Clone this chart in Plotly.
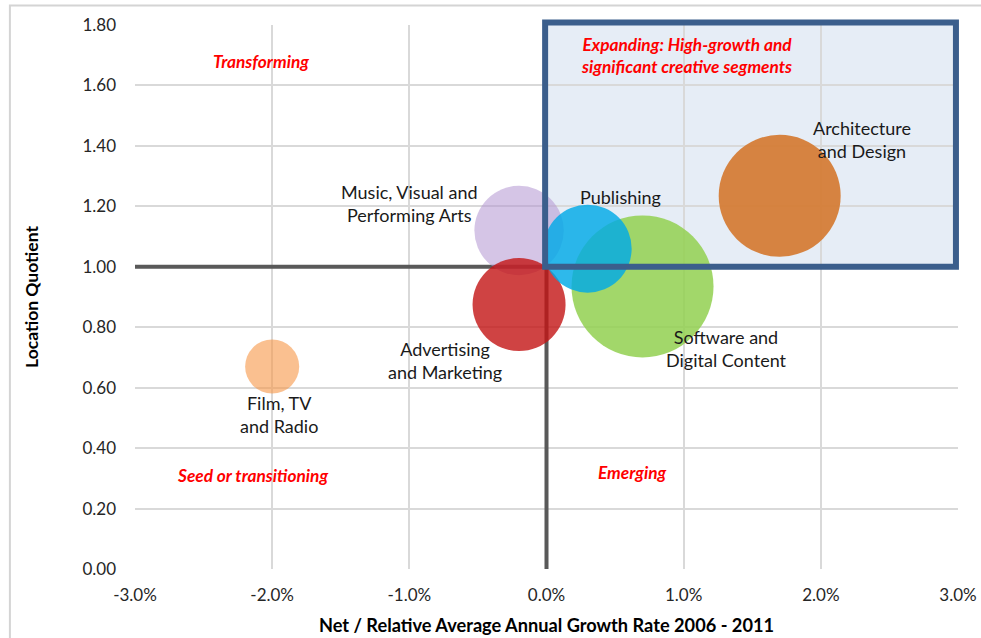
import plotly.graph_objects as go

# ---- data ----
segments = ["Film, TV and Radio", "Music, Visual and Performing Arts", "Advertising and Marketing",
            "Publishing", "Software and Digital Content", "Architecture and Design"]
growth = [-2.0, -0.2, -0.2, 0.3, 0.7, 1.7]          # % net/relative avg annual growth 2006-2011
lq = [0.67, 1.12, 0.875, 1.06, 0.935, 1.235]          # location quotient
bubble_size = [14.5, 39.6, 42.9, 38.4, 100.0, 73.8]   # relative employment size
label_text = ["Film, TV<br>and Radio", "Music, Visual and<br>Performing Arts", "Advertising<br>and Marketing",
              "Publishing", "Software and<br>Digital Content", "Architecture<br>and Design"]
label_x = [-1.95, -1.0, -0.74, 0.54, 1.31, 2.30]
label_y = [0.51, 1.21, 0.69, 1.23, 0.73, 1.42]
colors = ["rgba(247,150,70,0.6)", "rgba(178,150,210,0.55)", "rgba(195,20,20,0.8)",
          "rgba(0,170,230,0.82)", "rgba(146,208,80,0.85)", "rgba(213,125,55,0.95)"]

quad_text = ["Transforming", "Expanding: High-growth and<br>significant creative segments",
             "Seed or transitioning", "Emerging"]
quad_x = [-2.08, 1.02, -2.14, 0.63]
quad_y = [1.68, 1.70, 0.31, 0.32]

x_ticks = [-3, -2, -1, 0, 1, 2, 3]
x_tick_labels = ["-3.0%", "-2.0%", "-1.0%", "0.0%", "1.0%", "2.0%", "3.0%"]
y_ticks = [0, 0.2, 0.4, 0.6, 0.8, 1.0, 1.2, 1.4, 1.6, 1.8]
y_tick_labels = ["%.2f" % v for v in y_ticks]

X_RANGE = [-3, 3]
Y_RANGE = [0, 1.8]

def px_(x):
    return (x - X_RANGE[0]) / (X_RANGE[1] - X_RANGE[0])

def py_(y):
    return (y - Y_RANGE[0]) / (Y_RANGE[1] - Y_RANGE[0])

FONT = "Lato, 'Open Sans', sans-serif"
max_diam = 142
sizeref = 2.0 * max(bubble_size) / (max_diam ** 2)

fig = go.Figure()
# draw order: green under blue, purple under red
order = [0, 1, 2, 4, 3, 5]
for i in order:
    fig.add_trace(go.Scatter(
        x=[growth[i]], y=[lq[i]], mode="markers", name=segments[i],
        marker=dict(size=[bubble_size[i]], sizemode="area", sizeref=sizeref, opacity=1,
                    color=colors[i], line=dict(width=0)),
        showlegend=False, hoverinfo="text", hovertext=segments[i]))

shapes = [
    # quadrant box fill
    dict(type="rect", xref="x", yref="y", x0=0, x1=3.0, y0=1.0, y1=1.8,
         fillcolor="rgba(220,230,242,0.7)", line=dict(width=0), layer="below"),
    # divider lines
    dict(type="line", xref="x", yref="y", x0=-3, x1=0, y0=1.0, y1=1.0,
         line=dict(color="#595959", width=4), layer="between"),
    dict(type="line", xref="x", yref="y", x0=0, x1=0, y0=0, y1=1.0,
         line=dict(color="#595959", width=4), layer="between"),
    # quadrant box outline (paper coords so the thick border is not clipped)
    dict(type="rect", xref="paper", yref="paper", x0=px_(-0.01), x1=px_(2.985),
         y0=py_(1.0), y1=py_(1.808),
         line=dict(color="#3B5E8C", width=6), fillcolor="rgba(0,0,0,0)", layer="above"),
    # outer chart frame
    dict(type="rect", xref="paper", yref="paper", x0=-0.152, x1=1.2, y0=-0.5, y1=1.036,
         line=dict(color="#D4D4D4", width=2), fillcolor="rgba(0,0,0,0)", layer="above"),
]

annotations = []
for t, x, y in zip(label_text, label_x, label_y):
    annotations.append(dict(x=x, y=y, xref="x", yref="y", text=t, showarrow=False,
                            font=dict(family=FONT, size=18, color="#1a1a1a")))
for t, x, y in zip(quad_text, quad_x, quad_y):
    annotations.append(dict(x=x, y=y, xref="x", yref="y", text="<b><i>%s</i></b>" % t,
                            showarrow=False, font=dict(family=FONT, size=17.3, color="#FF0000")))

fig.update_layout(
    width=981, height=638,
    margin=dict(l=135, r=23, t=25, b=69),
    paper_bgcolor="white", plot_bgcolor="white",
    shapes=shapes, annotations=annotations,
    font=dict(family=FONT, size=17, color="#262626"),
    xaxis=dict(range=X_RANGE, tickvals=x_ticks, ticktext=x_tick_labels, automargin=False,
               showgrid=True, gridcolor="#D9D9D9", gridwidth=1.5, zeroline=False,
               showline=False, ticks="", ticklabelstandoff=14,
               title=dict(text="<b>Net / Relative Average Annual Growth Rate 2006 - 2011</b>",
                          font=dict(family=FONT, size=18.2, color="#000"), standoff=15)),
    yaxis=dict(range=Y_RANGE, tickvals=y_ticks, ticktext=y_tick_labels, automargin=False,
               showgrid=True, gridcolor="#D9D9D9", gridwidth=1.5, zeroline=False,
               showline=False, ticks="", ticklabelstandoff=18,
               title=dict(text="<b>Location Quotient</b>",
                          font=dict(family=FONT, size=17.5, color="#000"), standoff=39)),
)
fig.write_html("out.html", post_script="document.body.style.margin='0';",
               config={"displayModeBar": False})
